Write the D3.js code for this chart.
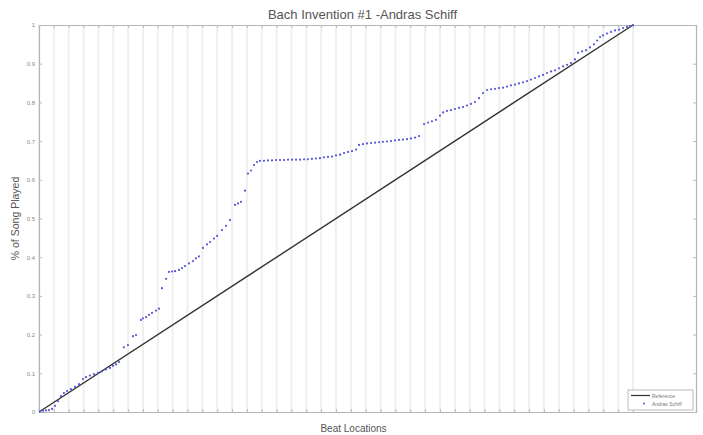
<!DOCTYPE html>
<meta charset="utf-8">
<style>
  body { margin: 0; background: #fff; }
  svg { font-family: "Liberation Sans", Arial, sans-serif; }
</style>
<script src="https://d3js.org/d3.v7.min.js"></script>
<div id="chart"></div>
<script>

// data
var title = "Bach Invention #1 -Andras Schiff";
var xLabel = "Beat Locations";
var yLabel = "% of Song Played";
var yTicks = [0, 0.1, 0.2, 0.3, 0.4, 0.5, 0.6, 0.7, 0.8, 0.9, 1];
var yTickLabels = ["0", "0.1", "0.2", "0.3", "0.4", "0.5", "0.6", "0.7", "0.8", "0.9", "1"];
var beatLines = d3.range(0, 41);   // one grid line per beat
var xMax = 44.24;

var refBeats = [0, 40];
var refPlayed = [0, 1];

var schiffBeats = [0.07, 0.27, 0.47, 0.67, 0.88, 1.08, 1.28, 1.48, 1.68, 1.89, 2.15, 2.42, 2.69, 2.96, 3.16, 3.43, 3.70, 3.97, 4.24, 4.51,
  4.78, 4.98, 5.19, 5.39, 5.72, 5.99, 6.33, 6.53, 6.87, 7.00, 7.21, 7.41, 7.61, 7.88, 8.08, 8.28, 8.55, 8.75, 8.96, 9.16,
  9.43, 9.63, 9.83, 10.10, 10.37, 10.57, 10.77, 11.04, 11.31, 11.52, 11.78, 11.99, 12.32, 12.59, 12.86, 13.20, 13.40, 13.60, 13.87, 14.07,
  14.28, 14.48, 14.68, 14.88, 15.15, 15.42, 15.69, 15.96, 16.23, 16.50, 16.77, 17.04, 17.31, 17.58, 17.85, 18.11, 18.38, 18.65, 18.92, 19.19,
  19.46, 19.73, 20.00, 20.27, 20.54, 20.81, 21.08, 21.35, 21.55, 21.82, 22.09, 22.36, 22.63, 22.90, 23.16, 23.43, 23.70, 23.97, 24.24, 24.51,
  24.78, 25.05, 25.32, 25.59, 25.93, 26.20, 26.46, 26.73, 27.00, 27.21, 27.47, 27.74, 28.01, 28.28, 28.55, 28.82, 29.09, 29.36, 29.63, 29.90,
  30.17, 30.44, 30.71, 30.98, 31.25, 31.52, 31.78, 32.05, 32.32, 32.59, 32.86, 33.13, 33.40, 33.67, 33.94, 34.21, 34.48, 34.75, 35.02, 35.29,
  35.56, 35.82, 36.09, 36.30, 36.57, 36.84, 37.10, 37.37, 37.58, 37.78, 37.98, 38.25, 38.52, 38.79, 39.06, 39.33, 39.60, 39.80, 40.00];
var schiffPlayed = [0.001, 0.003, 0.004, 0.005, 0.008, 0.016, 0.028, 0.041, 0.049, 0.054, 0.059, 0.065, 0.072, 0.085, 0.090, 0.094, 0.098, 0.101, 0.105, 0.110,
  0.114, 0.119, 0.123, 0.129, 0.167, 0.173, 0.196, 0.199, 0.238, 0.242, 0.245, 0.251, 0.256, 0.262, 0.267, 0.320, 0.344, 0.362, 0.363, 0.364,
  0.367, 0.372, 0.377, 0.384, 0.390, 0.397, 0.402, 0.424, 0.433, 0.439, 0.448, 0.455, 0.470, 0.481, 0.496, 0.535, 0.539, 0.543, 0.572, 0.616,
  0.624, 0.638, 0.646, 0.649, 0.649, 0.650, 0.650, 0.651, 0.651, 0.651, 0.652, 0.652, 0.652, 0.652, 0.653, 0.653, 0.654, 0.655, 0.656, 0.658,
  0.659, 0.660, 0.663, 0.665, 0.669, 0.672, 0.674, 0.678, 0.690, 0.692, 0.694, 0.695, 0.696, 0.697, 0.698, 0.699, 0.700, 0.702, 0.703, 0.704,
  0.705, 0.707, 0.709, 0.713, 0.744, 0.748, 0.751, 0.755, 0.766, 0.774, 0.778, 0.780, 0.783, 0.786, 0.788, 0.792, 0.796, 0.801, 0.811, 0.824,
  0.832, 0.834, 0.835, 0.837, 0.838, 0.841, 0.844, 0.846, 0.849, 0.852, 0.855, 0.859, 0.863, 0.867, 0.871, 0.876, 0.880, 0.883, 0.888, 0.893,
  0.897, 0.902, 0.911, 0.928, 0.932, 0.935, 0.942, 0.950, 0.960, 0.969, 0.973, 0.978, 0.982, 0.986, 0.988, 0.992, 0.995, 0.997, 1.000];

var margin = {top: 25, right: 7, bottom: 23, left: 39},
    width = 703 - margin.left - margin.right,
    height = 435 - margin.top - margin.bottom;

var svg = d3.select("#chart")
  .append("svg")
    .attr("width", 703)
    .attr("height", 435)
  .append("g")
    .attr("transform", "translate(" + margin.left + "," + margin.top + ")");

var x = d3.scaleLinear().domain([0, xMax]).range([0, width]);
var y = d3.scaleLinear().domain([0, 1]).range([height, 0]);

// vertical beat grid
svg.selectAll("line.grid")
  .data(beatLines)
  .enter()
  .append("line")
    .attr("class", "grid")
    .attr("x1", function(d) { return x(d); })
    .attr("x2", function(d) { return x(d); })
    .attr("y1", 0)
    .attr("y2", height)
    .attr("stroke", "#efefef")
    .attr("stroke-width", 2);

// x ticks (top and bottom, inward, no labels)
var xb = svg.append("g")
  .attr("transform", "translate(0," + height + ")")
  .call(d3.axisBottom(x).tickValues(beatLines).tickSize(-3).tickFormat(""));
var xt = svg.append("g")
  .call(d3.axisTop(x).tickValues(beatLines).tickSize(-3).tickFormat(""));

// y ticks left with labels, right without
var yl = svg.append("g")
  .call(d3.axisLeft(y).tickValues(yTicks).tickSize(-3).tickPadding(4)
    .tickFormat(function(d, i) { return yTickLabels[i]; }));
var yr = svg.append("g")
  .attr("transform", "translate(" + width + ",0)")
  .call(d3.axisRight(y).tickValues(yTicks).tickSize(-3).tickFormat(""));

[xb, xt, yl, yr].forEach(function(g) {
  g.select(".domain").attr("stroke", "#b5b5b5").attr("stroke-width", 1.2);
  g.selectAll(".tick line").attr("stroke", "#bbb");
  g.selectAll("text").attr("fill", "#888").style("font-size", "6px");
});

// reference diagonal
svg.append("path")
  .datum(d3.zip(refBeats, refPlayed))
  .attr("fill", "none")
  .attr("stroke", "#333")
  .attr("stroke-width", 1.4)
  .attr("d", d3.line()
    .x(function(d) { return x(d[0]); })
    .y(function(d) { return y(d[1]); }));

// Schiff dots
svg.selectAll("circle.schiff")
  .data(d3.zip(schiffBeats, schiffPlayed))
  .enter()
  .append("circle")
    .attr("class", "schiff")
    .attr("cx", function(d) { return x(d[0]); })
    .attr("cy", function(d) { return y(d[1]); })
    .attr("r", 1.1)
    .attr("fill", "#5858d4");

// title and axis labels
svg.append("text")
  .attr("x", width / 2 - 5)
  .attr("y", -6)
  .attr("text-anchor", "middle")
  .attr("fill", "#555")
  .style("font-size", "13px")
  .text(title);

svg.append("text")
  .attr("x", width / 2 - 14)
  .attr("y", height + 20)
  .attr("text-anchor", "middle")
  .attr("fill", "#555")
  .style("font-size", "10px")
  .text(xLabel);

svg.append("text")
  .attr("transform", "translate(-20," + (height / 2) + ")rotate(-90)")
  .attr("text-anchor", "middle")
  .attr("fill", "#555")
  .style("font-size", "10.5px")
  .text(yLabel);

// legend
var lg = svg.append("g")
  .attr("transform", "translate(" + (width - 68) + "," + (height - 22) + ")");
lg.append("rect")
  .attr("width", 65).attr("height", 20)
  .attr("fill", "#fff").attr("stroke", "#aaa").attr("stroke-width", 0.8);
lg.append("line")
  .attr("x1", 3).attr("x2", 22).attr("y1", 5.5).attr("y2", 5.5)
  .attr("stroke", "#333").attr("stroke-width", 1.2);
lg.append("circle")
  .attr("cx", 16).attr("cy", 13.5).attr("r", 1)
  .attr("fill", "#5858d4");
lg.append("text")
  .attr("x", 24).attr("y", 7.5)
  .attr("fill", "#777").style("font-size", "5px")
  .text("Reference");
lg.append("text")
  .attr("x", 24).attr("y", 15.5)
  .attr("fill", "#777").style("font-size", "5px")
  .text("Andras Schiff");

</script>
